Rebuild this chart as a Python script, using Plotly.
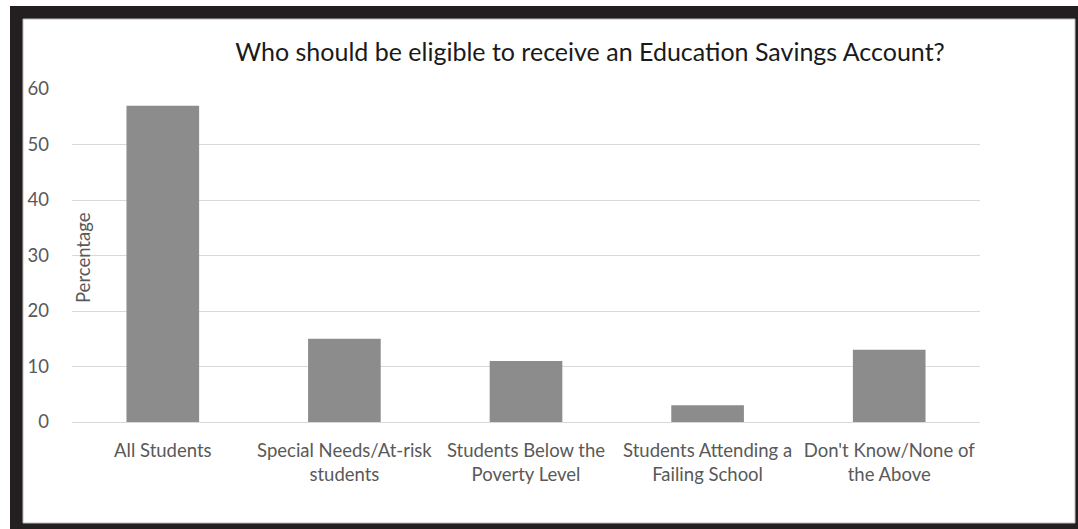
import plotly.graph_objects as go

categories = [
    "All Students",
    "Special Needs/At-risk<br>students",
    "Students Below the<br>Poverty Level",
    "Students Attending a<br>Failing School",
    "Don't Know/None of<br>the Above",
]
values = [57, 15, 11, 3, 13]
y_ticks = [0, 10, 20, 30, 40, 50, 60]

W, H = 1078, 529
ML, MR, MT, MB = 72, 98, 89, 107
PW, PH = W - ML - MR, H - MT - MB


def px(x):
    return (x - ML) / PW


def py(y):
    return (H - MB - y) / PH


FONT = "Lato"
GRAY = "#595959"
FS = 18.5

fig = go.Figure(
    go.Bar(
        x=categories,
        y=values,
        marker=dict(color="#8c8c8c", line=dict(width=0)),
        hoverinfo="x+y",
    )
)

fig.update_layout(
    width=W,
    height=H,
    margin=dict(l=ML, r=MR, t=MT, b=MB, pad=0),
    paper_bgcolor="white",
    plot_bgcolor="rgba(0,0,0,0)",
    bargap=0.6,
    showlegend=False,
    font=dict(family=FONT, size=FS, color=GRAY),
    title=dict(
        text="Who should be eligible to receive an Education Savings Account?",
        font=dict(family=FONT, size=25, color="#1a1a1a"),
        x=590 / W,
        xref="container",
        xanchor="center",
        y=1 - 52 / H,
        yref="container",
        yanchor="middle",
    ),
    xaxis=dict(
        showgrid=False,
        showline=False,
        zeroline=False,
        ticks="",
        ticklabelstandoff=15,
        tickfont=dict(family=FONT, size=FS, color=GRAY),
        fixedrange=True,
    ),
    yaxis=dict(
        range=[0, 60],
        tickvals=y_ticks,
        showgrid=True,
        gridcolor="#d9d9d9",
        gridwidth=1,
        zeroline=True,
        zerolinecolor="#d9d9d9",
        zerolinewidth=1,
        showline=False,
        ticks="",
        ticklabelstandoff=22,
        tickfont=dict(family=FONT, size=FS, color=GRAY),
        fixedrange=True,
    ),
    shapes=[
        dict(type="rect", xref="paper", yref="paper", layer="below",
             x0=px(10), x1=px(1078), y0=py(529), y1=py(6),
             fillcolor="#231f20", line=dict(width=0)),
        dict(type="rect", xref="paper", yref="paper", layer="below",
             x0=px(23), x1=px(1075), y0=py(523), y1=py(19),
             fillcolor="white", line=dict(width=1, color="#bbbbbb")),
    ],
    annotations=[
        dict(text="Percentage", xref="paper", yref="paper",
             x=px(83), y=py(258), textangle=-90, showarrow=False,
             xanchor="center", yanchor="middle",
             font=dict(family=FONT, size=FS, color=GRAY)),
    ],
)

fig.write_html("out.html")
